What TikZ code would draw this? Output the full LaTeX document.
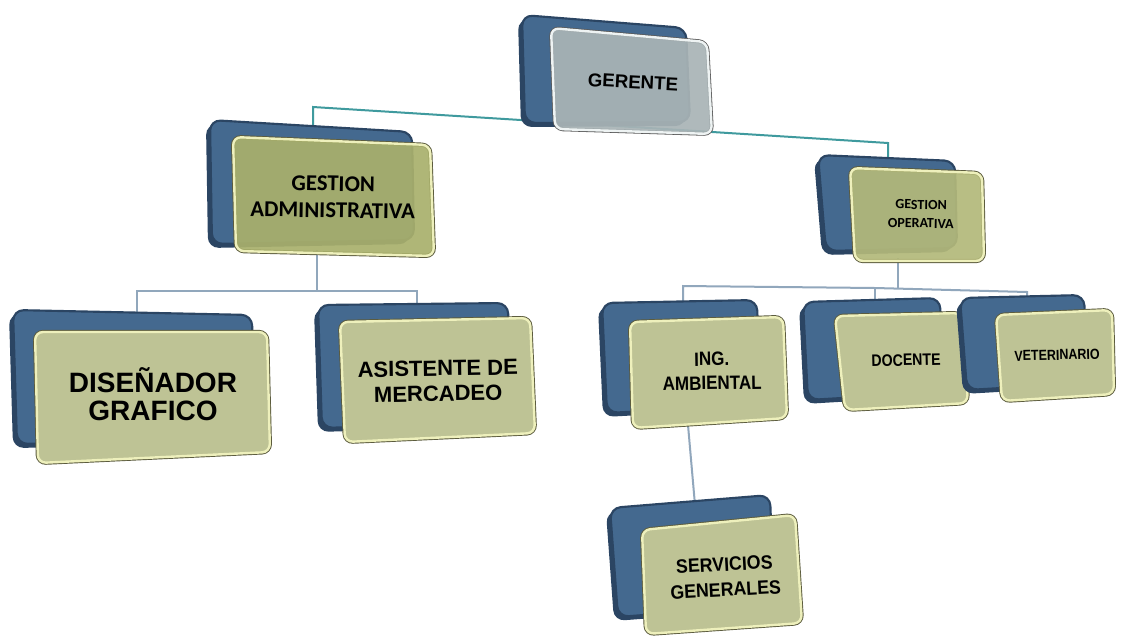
\documentclass[tikz,border=0pt]{standalone}
\usepackage{fontspec}
\setmainfont{Liberation Sans}
\newfontfamily\calfont{Carlito}
\definecolor{bkblue}{HTML}{44698F}
\definecolor{bkdark}{HTML}{2B4563}
\definecolor{olivef}{HTML}{BEC395}
\definecolor{oliveGA}{HTML}{A9B06C}
\definecolor{oliveGO}{HTML}{B3B97A}
\definecolor{gerf}{HTML}{A9B4B6}
\definecolor{oedge}{HTML}{EEF0BC}
\definecolor{odark}{HTML}{5C5C3E}
\definecolor{gedge}{HTML}{EEF3F3}
\definecolor{teal}{HTML}{3F9A9E}
\definecolor{lowline}{HTML}{91A7BC}
\tikzset{
  backbox/.style={fill=bkblue, draw=bkdark, line width=1.6pt, rounded corners=8pt},
  backshade/.style={fill=bkdark, rounded corners=8pt},
  frontdark/.style={draw=odark, line width=3.2pt, rounded corners=6pt},
  frontbox/.style={fill=#1, draw=oedge, line width=1.8pt, rounded corners=6pt},
  lbl/.style={align=center, text=black, inner sep=0pt},
  topline/.style={draw=teal, line width=1.5pt},
  lowl/.style={draw=lowline, line width=1.5pt},
}
\newcommand\backq[4]{\path[backshade] ([shift={(-4,4)}]#1) -- ([shift={(-4,4)}]#2) -- ([shift={(-4,4)}]#3) -- ([shift={(-4,4)}]#4) -- cycle;
  \path[backbox] (#1) -- (#2) -- (#3) -- (#4) -- cycle;}
\newcommand\frontq[5]{\path[frontdark] (#1) -- (#2) -- (#3) -- (#4) -- cycle;
  \path[frontbox=#5] (#1) -- (#2) -- (#3) -- (#4) -- cycle;}
\begin{document}
\begin{tikzpicture}[x=0.75pt,y=-0.75pt]
\useasboundingbox (0,0) rectangle (1124,636);
\fill[white] (0,0) rectangle (1124,636);
% connector coordinates
\coordinate (tL) at (313,107);
\coordinate (tR) at (888,143);
\coordinate (gaTop) at (313,128);
\coordinate (goTop) at (888,162);
\coordinate (gaBot) at (317,250);
\coordinate (gaJ) at (317,291);
\coordinate (dgJ) at (137,291);
\coordinate (amJ) at (417,291);
\coordinate (dgTop) at (137,312);
\coordinate (amTop) at (417,307);
\coordinate (goBot) at (898,258);
\coordinate (goJ) at (898,288);
\coordinate (iaJ) at (683,286);
\coordinate (doJ) at (875,288);
\coordinate (veJ) at (1027,292);
\coordinate (iaTop) at (683,304);
\coordinate (doTop) at (875,302);
\coordinate (veTop) at (1027,298);
\coordinate (iaBot) at (688,425);
\coordinate (sgTop) at (695,505);
% connectors (behind boxes)
\draw[topline] (gaTop) -- (tL) -- (tR) -- (goTop);
\draw[lowl] (gaBot) -- (gaJ);
\draw[lowl] (dgTop) -- (dgJ) -- (amJ) -- (amTop);
\draw[lowl] (goBot) -- (goJ);
\draw[lowl] (iaTop) -- (iaJ) -- (doJ) -- (veJ) -- (veTop);
\draw[lowl] (doJ) -- (doTop);
\draw[lowl] (iaBot) -- (sgTop);
% GERENTE
\backq{522,15}{686,28}{690,122}{525,123}
\path[draw=gray!70!black, line width=3pt, rounded corners=6pt] (551,28) -- (707,42) -- (712,134) -- (555,129) -- cycle;
\path[fill=gerf, fill opacity=0.92, draw=gedge, line width=1.8pt, rounded corners=6pt] (551,28) -- (707,42) -- (712,134) -- (555,129) -- cycle;
\node[lbl, rotate=-3, font=\bfseries\fontsize{14}{16}\selectfont] (ger) at (633,82) {GERENTE};
% GESTION ADMINISTRATIVA
\backq{210,120}{412,132}{414,240}{212,244}
\path[frontdark] (233,137) -- (430,145) -- (434,256) -- (236,251) -- cycle;
\path[fill=oliveGA, fill opacity=0.92, draw=oedge, line width=1.8pt, rounded corners=6pt] (233,137) -- (430,145) -- (434,256) -- (236,251) -- cycle;
\node[lbl, rotate=-1, font=\calfont\bfseries\fontsize{17}{20}\selectfont] (ga) at (333,197) {GESTION\\ADMINISTRATIVA};
% GESTION OPERATIVA
\backq{818,155}{955,161}{957,248}{826,251}
\path[frontdark] (850,168) -- (982,173) -- (984,261) -- (855,261) -- cycle;
\path[fill=oliveGO, fill opacity=0.92, draw=oedge, line width=1.8pt, rounded corners=6pt] (850,168) -- (982,173) -- (984,261) -- (855,261) -- cycle;
\node[lbl, rotate=-1, font=\calfont\bfseries\fontsize{10.5}{14}\selectfont] (go) at (921,214) {GESTION\\OPERATIVA};
% DISEÑADOR GRAFICO
\backq{13,310}{252,315}{254,440}{17,444}
\frontq{35,332}{267,332}{270,452}{38,463}{olivef}
\node[lbl, font=\bfseries\fontsize{21}{21}\selectfont] (dg) at (153,394) {DISEÑADOR\\GRAFICO};
% ASISTENTE DE MERCADEO
\backq{318,305}{508,303}{510,422}{322,428}
\frontq{340,322}{530,318}{535,433}{345,442}{olivef}
\node[lbl, rotate=1, font=\bfseries\fontsize{16.5}{19}\selectfont] (am) at (438,381) {ASISTENTE DE\\MERCADEO};
% ING. AMBIENTAL
\backq{602,303}{757,300}{760,405}{607,413}
\frontq{630,322}{783,317}{787,418}{633,428}{olivef}
\node[lbl, rotate=1, xscale=0.88, font=\bfseries\fontsize{14.5}{18}\selectfont] (ia) at (712,371) {ING.\\AMBIENTAL};
% DOCENTE
\backq{803,302}{940,298}{943,392}{808,400}
\frontq{835,316}{962,313}{968,403}{845,410}{olivef}
\node[lbl, rotate=1.5, xscale=0.85, font=\bfseries\fontsize{12.5}{14}\selectfont] (do) at (906,360) {DOCENTE};
% VETERINARIO
\backq{960,298}{1084,295}{1088,383}{967,390}
\frontq{996,315}{1112,310}{1114,394}{1002,401}{olivef}
\node[lbl, rotate=1.5, xscale=0.85, font=\bfseries\fontsize{11}{13}\selectfont] (ve) at (1057,355) {VETERINARIO};
% SERVICIOS GENERALES
\backq{610,508}{770,495}{774,605}{618,617}
\frontq{642,530}{795,515}{802,623}{646,634}{olivef}
\node[lbl, rotate=3, xscale=0.92, font=\bfseries\fontsize{14.5}{19}\selectfont] (sg) at (725,577) {SERVICIOS\\GENERALES};
\end{tikzpicture}
\end{document}
